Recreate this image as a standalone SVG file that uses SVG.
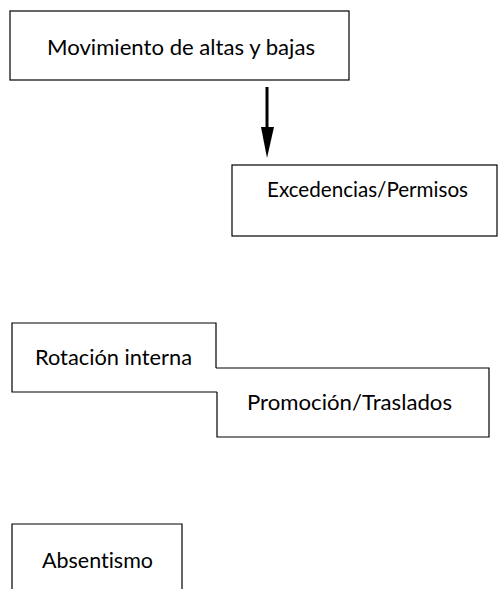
<svg xmlns="http://www.w3.org/2000/svg" width="499" height="589" viewBox="0 0 499 589">
<defs>
<style>
.box{fill:none;stroke:#000;stroke-width:1.2}
.lbl{font-family:Lato,"Liberation Sans",Arial,sans-serif;font-size:21px;fill:#000;font-variant-ligatures:none;font-feature-settings:"liga" 0,"clig" 0}
.conn{stroke:#000;stroke-width:3;fill:none}
</style>
</defs>
<rect width="499" height="589" fill="#fff"/>
<g id="n-movimiento">
<rect class="box" x="10" y="11" width="339" height="69"/>
<text class="lbl" x="47" y="55" textLength="268" lengthAdjust="spacingAndGlyphs">Movimiento de altas y bajas</text>
</g>
<g id="n-excedencias">
<rect class="box" x="232" y="165" width="265" height="71"/>
<text class="lbl" x="267" y="197" textLength="201" lengthAdjust="spacingAndGlyphs">Excedencias/Permisos</text>
</g>
<g id="n-rotacion">
<path class="box" d="M216,368 V323 H12 V392 H217"/>
<text class="lbl" x="35" y="365" textLength="157" lengthAdjust="spacingAndGlyphs">Rotación interna</text>
</g>
<g id="n-promocion">
<path class="box" d="M216,368 H489 V437 H217 V392"/>
<text class="lbl" x="247" y="410" textLength="205" lengthAdjust="spacingAndGlyphs">Promoción/Traslados</text>
</g>
<g id="n-absentismo">
<path class="box" d="M12,595 V524 H182 V595"/>
<text class="lbl" x="42" y="568" textLength="111" lengthAdjust="spacingAndGlyphs">Absentismo</text>
</g>
<g id="connectors">
<line class="conn" x1="267" y1="87" x2="267" y2="128"/>
<path d="M261,127 L274,127 L267,158 Z" fill="#000"/>
</g>
</svg>
